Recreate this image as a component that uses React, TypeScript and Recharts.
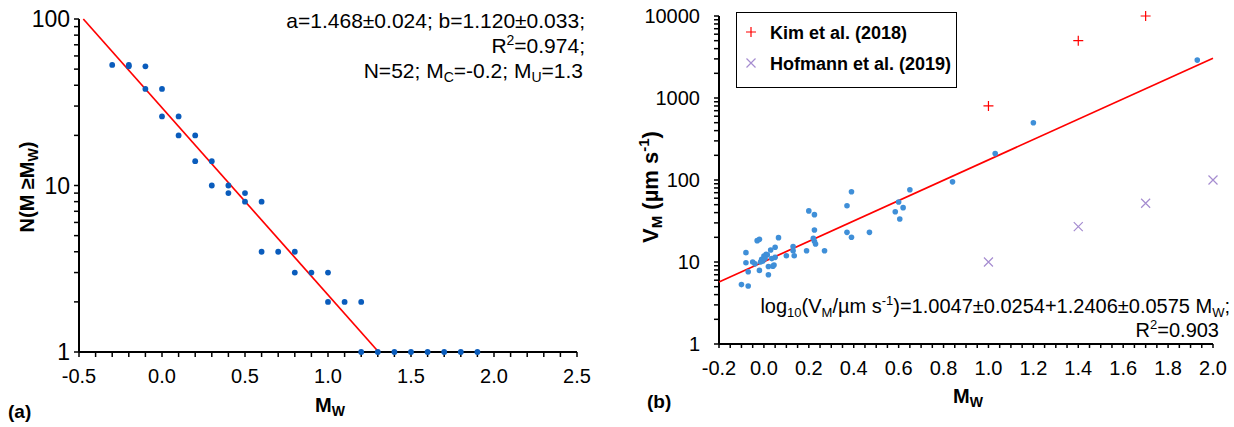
import React from 'react';
import { ScatterChart, Scatter, XAxis, YAxis, Legend } from 'recharts';

// ---------- Panel (a): frequency-magnitude distribution ----------
const catalogMw = [-0.3, -0.2, -0.2, -0.1, -0.1, 0.0, 0.0, 0.1, 0.1, 0.2, 0.2, 0.3, 0.3, 0.4, 0.4, 0.5, 0.5, 0.6, 0.6, 0.7, 0.8, 0.8, 0.9, 1.0, 1.0, 1.1, 1.2, 1.2, 1.3, 1.4, 1.5, 1.6, 1.7, 1.8, 1.9];
const catalogN = [53, 53, 52, 52, 38, 38, 26, 26, 20, 20, 14, 14, 10, 10, 9, 9, 8, 8, 4, 4, 4, 3, 3, 3, 2, 2, 2, 1, 1, 1, 1, 1, 1, 1, 1];
const gutenbergFitMw = [-0.474, 1.305];
const gutenbergFitN = [100, 1];

const leftXMajor = [-0.5, 0.0, 0.5, 1.0, 1.5, 2.0, 2.5];
const leftXTicks = [-0.5, -0.4, -0.3, -0.2, -0.1, 0.0, 0.1, 0.2, 0.3, 0.4, 0.5, 0.6, 0.7, 0.8, 0.9, 1.0, 1.1, 1.2, 1.3, 1.4, 1.5, 1.6, 1.7, 1.8, 1.9, 2.0, 2.1, 2.2, 2.3, 2.4, 2.5];
const leftYMajor = [1, 10, 100];
const leftYTicks = [1, 2, 3, 4, 5, 6, 7, 8, 9, 10, 20, 30, 40, 50, 60, 70, 80, 90, 100];

// ---------- Panel (b): velocity vs magnitude ----------
const velocityMw = [-0.10, -0.07, -0.08, -0.08, -0.07, -0.05, -0.02, -0.03, -0.02, -0.01, 0.00, 0.01, 0.015, 0.02, 0.02, 0.03, 0.04, 0.045, 0.05, 0.05, 0.065, 0.10, 0.13, 0.13, 0.135, 0.19, 0.20, 0.225, 0.225, 0.22, 0.225, 0.23, 0.27, 0.37, 0.37, 0.39, 0.47, 0.585, 0.60, 0.605, 0.62, 0.39, 0.65, 0.84, 1.03, 1.20, 1.93, -0.005, 0.005, -0.015, 0.035, -0.04];
const velocityV = [5.3, 5.1, 13.0, 9.8, 7.6, 10.0, 7.9, 18.2, 18.9, 10.8, 11.8, 12.4, 12.2, 8.8, 7.0, 14.0, 8.9, 9.2, 11.4, 15.1, 19.8, 11.9, 15.4, 13.7, 11.9, 13.7, 42, 37.8, 24.6, 19.5, 17.9, 16.6, 13.7, 48.6, 23, 20, 23, 41, 54, 33.5, 46, 72, 76, 95, 210, 500, 2900, 10.3, 11.0, 10.0, 11.0, 9.5];
const kimMw = [1.0, 1.4, 1.7];
const kimV = [800, 5000, 10000];
const hofmannMw = [1.0, 1.4, 1.7, 2.0];
const hofmannV = [10, 27, 52, 100];
const velocityFitMw = [-0.2, 2.0];
const velocityFitV = [5.7, 3060];
const legendNames = ['Kim et al. (2018)', 'Hofmann et al. (2019)'];

const rightXMajor = [-0.2, 0.0, 0.2, 0.4, 0.6, 0.8, 1.0, 1.2, 1.4, 1.6, 1.8, 2.0];
const rightXTicks = [-0.2, -0.15, -0.1, -0.05, 0.0, 0.05, 0.1, 0.15, 0.2, 0.25, 0.3, 0.35, 0.4, 0.45, 0.5, 0.55, 0.6, 0.65, 0.7, 0.75, 0.8, 0.85, 0.9, 0.95, 1.0, 1.05, 1.1, 1.15, 1.2, 1.25, 1.3, 1.35, 1.4, 1.45, 1.5, 1.55, 1.6, 1.65, 1.7, 1.75, 1.8, 1.85, 1.9, 1.95, 2.0];
const rightYMajor = [1, 10, 100, 1000, 10000];
const rightYTicks = [1, 2, 3, 4, 5, 6, 7, 8, 9, 10, 20, 30, 40, 50, 60, 70, 80, 90, 100, 200, 300, 400, 500, 600, 700, 800, 900, 1000, 2000, 3000, 4000, 5000, 6000, 7000, 8000, 9000, 10000];

const zip = (xs: number[], ys: number[]) => xs.map((x, i) => ({ x, y: ys[i] }));

const FONT = "'Liberation Sans', Arial, Helvetica, sans-serif";
const RED = '#ff0000';
const PURPLE = '#a58cd0';
const axisStyle = { stroke: '#000', strokeWidth: 2 };
const tickLineStyle = { stroke: '#000', strokeWidth: 1.5 };

const isMajor = (list: number[], v: number) => list.some((m) => Math.abs(m - v) < 1e-9);

const xTick = (majors: number[]) => (p: any) => {
  const v = p.payload.value;
  if (!isMajor(majors, v)) return <g />;
  return (
    <text x={p.x} y={p.y} dy="0.71em" textAnchor="middle" fill="#000" fontSize={20} fontFamily={FONT}>
      {v.toFixed(1)}
    </text>
  );
};
const yTick = (majors: number[], size: number) => (p: any) => {
  const v = p.payload.value;
  if (!isMajor(majors, v)) return <g />;
  return (
    <text x={p.x} y={p.y} dy="0.355em" textAnchor="end" fill="#000" fontSize={size} fontFamily={FONT}>
      {String(v)}
    </text>
  );
};

const noShape = () => <g />;
const dotLeft = (p: any) => <circle cx={p.cx} cy={p.cy} r={2.9} fill="#0a5cbc" />;
const dotRight = (p: any) => <circle cx={p.cx} cy={p.cy} r={2.8} fill="#3f8fd8" />;
const plusShape = (p: any) => (
  <path d={`M${p.cx - 5},${p.cy}H${p.cx + 5}M${p.cx},${p.cy - 5}V${p.cy + 5}`} stroke={RED} strokeWidth={1.2} fill="none" />
);
const crossShape = (p: any) => (
  <path d={`M${p.cx - 4.5},${p.cy - 4.5}L${p.cx + 4.5},${p.cy + 4.5}M${p.cx - 4.5},${p.cy + 4.5}L${p.cx + 4.5},${p.cy - 4.5}`} stroke={PURPLE} strokeWidth={1.2} fill="none" />
);

const LegendBox = () => (
  <div style={{ position: 'relative', width: 221, height: 76, boxSizing: 'border-box', border: '1.5px solid #000', background: '#fff', fontFamily: FONT }}>
    <svg width={221} height={76} style={{ position: 'absolute', left: -1.5, top: -1.5 }}>
      <path d="M10,20H20M15,15V25" stroke={RED} strokeWidth={1.2} fill="none" />
      <path d="M10.5,46.5L19.5,55.5M10.5,55.5L19.5,46.5" stroke={PURPLE} strokeWidth={1.2} fill="none" />
      <text x={34} y={26.5} fontSize={18} fontWeight="bold" fill="#000" fontFamily={FONT}>{legendNames[0]}</text>
      <text x={34} y={57.5} fontSize={18} fontWeight="bold" fill="#000" fontFamily={FONT}>{legendNames[1]}</text>
    </svg>
  </div>
);

export default function App() {
  return (
    <div style={{ position: 'absolute', left: 0, top: 0, width: 1234, height: 427, background: '#fff', fontFamily: FONT }}>
      <div style={{ position: 'absolute', left: 0, top: 0 }}>
        <ScatterChart width={620} height={427} margin={{ top: 19, right: 43, bottom: 0, left: 0 }}>
          <XAxis type="number" dataKey="x" domain={[-0.5, 2.5]} ticks={leftXTicks} interval={0} tick={xTick(leftXMajor)}
            tickSize={5} tickMargin={12} axisLine={axisStyle} tickLine={tickLineStyle} height={75} />
          <YAxis type="number" dataKey="y" scale="log" domain={[1, 100]} ticks={leftYTicks} interval={0} tick={yTick(leftYMajor, 23)}
            tickSize={5} tickMargin={4} axisLine={axisStyle} tickLine={tickLineStyle} width={79} />
          <Scatter data={zip(gutenbergFitMw, gutenbergFitN)} line={{ stroke: RED, strokeWidth: 1.7 }} shape={noShape} isAnimationActive={false} />
          <Scatter data={zip(catalogMw, catalogN)} shape={dotLeft} isAnimationActive={false} />
        </ScatterChart>
      </div>
      <div style={{ position: 'absolute', left: 620, top: 0 }}>
        <ScatterChart width={614} height={427} margin={{ top: 16, right: 21, bottom: 0, left: 0 }}>
          <XAxis type="number" dataKey="x" domain={[-0.2, 2.0]} ticks={rightXTicks} interval={0} tick={xTick(rightXMajor)}
            tickSize={4} tickMargin={13} axisLine={axisStyle} tickLine={tickLineStyle} height={83} />
          <YAxis type="number" dataKey="y" scale="log" domain={[1, 10000]} ticks={rightYTicks} interval={0} tick={yTick(rightYMajor, 20)}
            tickSize={5} tickMargin={14} axisLine={axisStyle} tickLine={tickLineStyle} width={99} />
          <Legend layout="vertical" align="center" verticalAlign="middle" content={LegendBox}
            wrapperStyle={{ left: 116, top: 12, width: 221, height: 76 }} />
          <Scatter data={zip(velocityFitMw, velocityFitV)} line={{ stroke: RED, strokeWidth: 1.7 }} shape={noShape} isAnimationActive={false} legendType="none" />
          <Scatter name={legendNames[0]} data={zip(kimMw, kimV)} shape={plusShape} isAnimationActive={false} />
          <Scatter name={legendNames[1]} data={zip(hofmannMw, hofmannV)} shape={crossShape} isAnimationActive={false} />
          <Scatter data={zip(velocityMw, velocityV)} shape={dotRight} isAnimationActive={false} legendType="none" />
        </ScatterChart>
      </div>
      <svg width={1234} height={427} style={{ position: 'absolute', left: 0, top: 0, pointerEvents: 'none' }} fontFamily={FONT} fill="#000">
        {/* panel (a) annotations */}
        <text x={585} y={28} fontSize={21} textAnchor="end">a=1.468±0.024; b=1.120±0.033;</text>
        <text x={585} y={53} fontSize={21} textAnchor="end">
          <tspan>R</tspan><tspan fontSize={14} dy={-8}>2</tspan><tspan dy={8}>=0.974;</tspan>
        </text>
        <text x={583} y={78} fontSize={21} textAnchor="end">
          <tspan>N=52; M</tspan><tspan fontSize={14} dy={4}>C</tspan><tspan dy={-4}>=-0.2; M</tspan><tspan fontSize={14} dy={4}>U</tspan><tspan dy={-4}>=1.3</tspan>
        </text>
        <text x={330} y={412} fontSize={20} fontWeight="bold" textAnchor="middle">
          <tspan>M</tspan><tspan fontSize={14} dy={4}>W</tspan>
        </text>
        <text transform="translate(34,187) rotate(-90)" fontSize={20} fontWeight="bold" textAnchor="middle">
          <tspan>N(M ≥M</tspan><tspan fontSize={14} dy={4}>W</tspan><tspan dy={-4}>)</tspan>
        </text>
        <text x={8} y={418} fontSize={19} fontWeight="bold">(a)</text>
        {/* panel (b) annotations */}
        <text x={1230} y={313} fontSize={20} textAnchor="end">
          <tspan>log</tspan><tspan fontSize={13} dy={4}>10</tspan><tspan dy={-4}>(V</tspan><tspan fontSize={13} dy={4}>M</tspan><tspan dy={-4}>/µm s</tspan><tspan fontSize={13} dy={-8}>-1</tspan><tspan dy={8}>)=1.0047±0.0254+1.2406±0.0575 M</tspan><tspan fontSize={13} dy={4}>W</tspan><tspan dy={-4}>;</tspan>
        </text>
        <text x={1219} y={337} fontSize={20} textAnchor="end">
          <tspan>R</tspan><tspan fontSize={13} dy={-8}>2</tspan><tspan dy={8}>=0.903</tspan>
        </text>
        <text x={968} y={403} fontSize={20} fontWeight="bold" textAnchor="middle">
          <tspan>M</tspan><tspan fontSize={14} dy={4}>W</tspan>
        </text>
        <text transform="translate(658,187) rotate(-90)" fontSize={22} fontWeight="bold" textAnchor="middle">
          <tspan>V</tspan><tspan fontSize={15} dy={4}>M</tspan><tspan dy={-4}> (µm s</tspan><tspan fontSize={15} dy={-9}>-1</tspan><tspan dy={9}>)</tspan>
        </text>
        <text x={647} y={408} fontSize={19} fontWeight="bold">(b)</text>
      </svg>
    </div>
  );
}
